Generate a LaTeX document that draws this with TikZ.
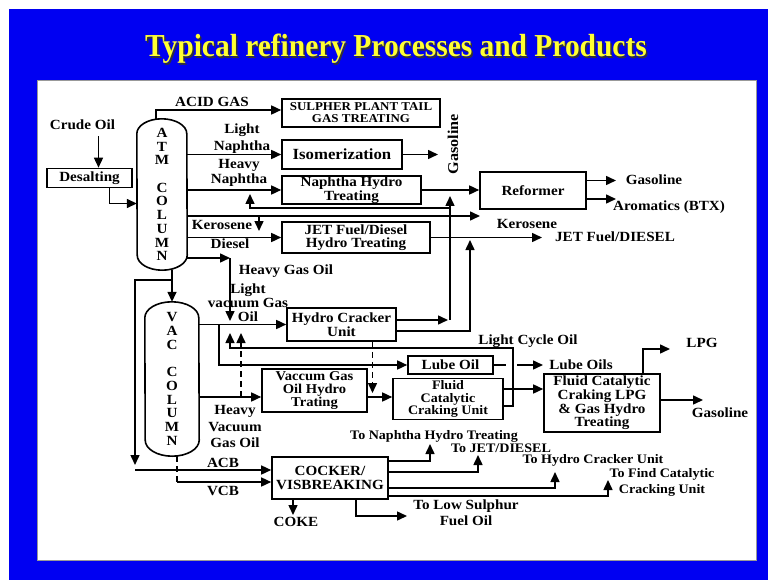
\documentclass[tikz,border=0pt]{standalone}
\usepackage{fontspec}
\setmainfont{Liberation Serif}[FakeStretch=1.08]
\newfontfamily\titlefont{Liberation Serif}[FakeStretch=0.92]
\usepackage{tikz}
\usetikzlibrary{calc,arrows.meta}
\definecolor{slide}{HTML}{0000F2}
\definecolor{headline}{HTML}{FFFF33}
\tikzset{
  unit/.style={draw, line width=1.6pt, inner sep=0pt, align=center, font=\fontsize{14}{13.6}\selectfont\bfseries},
  vessel/.style={draw, line width=1.6pt},
  flow/.style={draw, line width=1.5pt, -{Triangle[length=10pt,width=9pt]}},
  pipe/.style={draw, line width=1.5pt},
  broken/.style={dash pattern=on 6pt off 4pt},
  lab/.style={font=\fontsize{14}{16}\selectfont\bfseries, align=center, inner sep=0pt},
  smalllab/.style={lab, font=\fontsize{13}{16}\selectfont\bfseries},
  letters/.style={font=\fontsize{14}{13.7}\selectfont\bfseries, align=center, inner sep=0pt},
}

\begin{document}
\begin{tikzpicture}[x=1pt,y=-1pt]
\useasboundingbox (0,0) rectangle (768,580);
\fill[slide] (9,9) rectangle (768,580);
\draw[fill=white, draw=black!40] (37,80) rectangle (756,560);

\node[font=\titlefont\fontsize{32}{34}\selectfont\bfseries, text=black!80, anchor=base] (titleshade) at (397.5,58.5) {Typical refinery Processes and Products};
\node[font=\titlefont\fontsize{32}{34}\selectfont\bfseries, text=headline, anchor=base] (title) at (396,57) {Typical refinery Processes and Products};

% columns
\node[letters, minimum width=50pt, minimum height=151pt] (atm) at (162,194.5) {A\\T\\M\\[13.7pt]C\\O\\L\\U\\M\\N};
\draw[vessel] ([yshift=-15pt]atm.north west) arc[start angle=180, end angle=0, x radius=25pt, y radius=15pt]
  -- ([yshift=15pt]atm.south east) arc[start angle=0, end angle=-180, x radius=25pt, y radius=15pt] -- cycle;
\node[letters, minimum width=54pt, minimum height=154pt] (vac) at (172,379) {V\\A\\C\\[14pt]C\\O\\L\\U\\M\\N};
\draw[vessel] ([yshift=-16pt]vac.north west) arc[start angle=180, end angle=0, x radius=27pt, y radius=16pt]
  -- ([yshift=16pt]vac.south east) arc[start angle=0, end angle=-180, x radius=27pt, y radius=16pt] -- cycle;

% units
\node[unit, minimum width=158pt, minimum height=28pt, font=\fontsize{12}{12}\selectfont\bfseries] (sulph) at (361,113) {SULPHER PLANT TAIL\\GAS TREATING};
\node[unit, minimum width=85pt, minimum height=19pt] (desalt) at (89.5,178) {Desalting};
\node[unit, minimum width=120pt, minimum height=29pt, font=\fontsize{15.5}{16}\selectfont\bfseries] (iso) at (342,154.5) {Isomerization};
\node[unit, minimum width=139pt, minimum height=28pt] (nht) at (351.5,190) {Naphtha Hydro\\Treating};
\node[unit, minimum width=106pt, minimum height=37pt] (ref) at (533,190.5) {Reformer};
\node[unit, minimum width=148pt, minimum height=31pt] (jet) at (356,237.5) {JET Fuel/Diesel\\Hydro Treating};
\node[unit, minimum width=109pt, minimum height=33pt] (hc) at (341.5,324.5) {Hydro Cracker\\Unit};
\node[unit, minimum width=85pt, minimum height=18pt] (lube) at (450.5,365) {Lube Oil};
\node[unit, minimum width=105pt, minimum height=43pt, font=\fontsize{13.5}{12.8}\selectfont\bfseries] (vgo) at (314.5,390.5) {Vaccum Gas\\Oil Hydro\\Trating};
\node[unit, minimum width=110pt, minimum height=41pt, font=\fontsize{13}{12.4}\selectfont\bfseries] (fcc) at (448,399) {Fluid\\Catalytic\\Craking Unit};
\node[unit, minimum width=116pt, minimum height=58pt] (fccl) at (602,403) {Fluid Catalytic\\Craking LPG\\\& Gas Hydro\\Treating};
\node[unit, minimum width=116pt, minimum height=42pt] (cok) at (330,478) {COCKER/\\VISBREAKING};

% labels
\node[lab] (crude) at (82.5,125) {Crude Oil};
\node[lab] (acid) at (212,102) {ACID GAS};
\node[lab, font=\fontsize{14}{17}\selectfont\bfseries] (lnaph) at (242,138.5) {Light\\Naphtha};
\node[lab, font=\fontsize{14}{15}\selectfont\bfseries] (hnaph) at (239,172.5) {Heavy\\Naphtha};
\node[lab, rotate=90, font=\fontsize{15}{16}\selectfont\bfseries] (gasvert) at (453,144) {Gasoline};
\node[lab] (gasref) at (654,180) {Gasoline};
\node[lab] (btx) at (669,207) {Aromatics (BTX)};
\node[lab] (kerol) at (222,225) {Kerosene};
\node[lab] (kero) at (527,224) {Kerosene};
\node[lab] (dies) at (230,244) {Diesel};
\node[lab] (jetl) at (615,237) {JET Fuel/DIESEL};
\node[lab] (hgol) at (286,271) {Heavy Gas Oil};
\node[lab, font=\fontsize{14}{14}\selectfont\bfseries] (lvgo) at (248,303) {Light\\vacuum Gas\\Oil};
\node[lab, font=\fontsize{14}{16.5}\selectfont\bfseries] (hvgo) at (235,426.5) {Heavy\\Vacuum\\Gas Oil};
\node[lab] (acb) at (223,463) {ACB};
\node[lab] (vcb) at (223,491) {VCB};
\node[lab] (coke) at (296,522) {COKE};
\node[lab] (lsfo) at (466,513) {To Low Sulphur\\Fuel Oil};
\node[lab] (lco) at (528,341) {Light Cycle Oil};
\node[lab] (lubel) at (581,365) {Lube Oils};
\node[lab] (lpg) at (702,343) {LPG};
\node[lab] (gasfcc) at (720,413) {Gasoline};
\node[smalllab] (tonht) at (434,436) {To Naphtha Hydro Treating};
\node[smalllab] (tojet) at (501,448) {To JET/DIESEL};
\node[smalllab] (tohc) at (593,460) {To Hydro Cracker Unit};
\node[smalllab] (tofcc) at (662,482) {To Find Catalytic\\Cracking Unit};

% free ends
\coordinate (isoout) at (438,156);
\coordinate (refgas) at (616,180.5);
\coordinate (refbtx) at (616,199);
\coordinate (keroend) at (480,216);
\coordinate (kerodrop) at (259,231);
\coordinate (jetend) at (542,237.5);
\coordinate (hgo) at (230,258);
\coordinate (hgoend) at (230,321);
\coordinate (split) at (172,280);
\coordinate (acb0) at (135,470);
\coordinate (vcb0) at (177,482);
\coordinate (lubeb) at (219,324.5);
\coordinate (lubegap) at (517,365);
\coordinate (lubeend) at (543,365);
\coordinate (lcotop) at (513,348);
\coordinate (lcoend) at (230,333);
\coordinate (vgoin) at ([yshift=-6.5pt]vgo.west);
\coordinate (hvgoup) at (241,333);
\coordinate (hcdrop) at ([xshift=31pt]hc.south);
\coordinate (hcdropend) at (372.5,393);
\coordinate (hcjoin) at (450,320);
\coordinate (hcup) at (450,196);
\coordinate (recyc0) at (450,208);
\coordinate (recyc) at (250,194);
\coordinate (hcjet) at (470,240);
\coordinate (fccout) at ([yshift=10pt]fcc.east);
\coordinate (lpgend) at (670,349);
\coordinate (gasend) at (703,400);
\coordinate (cokeend) at (293,515);
\coordinate (lsfoend) at (407,516);
\coordinate (c1) at (430,444);
\coordinate (c2) at (478,455);
\coordinate (c3) at (555,472);
\coordinate (c4) at (608,480);

% atmospheric side
\draw[flow] ([xshift=16pt,yshift=-6pt]crude.south) -- ([xshift=16pt]crude.south |- desalt.north);
\draw[flow] ([xshift=20pt]desalt.south) |- ([yshift=-9pt]atm.west);
\draw[flow] ([xshift=-6pt]atm.north) |- ([yshift=3pt]sulph.west);
\draw[flow] (atm.east |- iso.west) -- (iso.west);
\draw[flow] (iso.east) -- (iso.east -| isoout);
\draw[flow] (atm.east |- nht.west) -- (nht.west);
\draw[flow] (nht.east) -- (nht.east -| ref.west);
\draw[flow] (ref.east |- refgas) -- (refgas);
\draw[flow] (ref.east |- refbtx) -- (refbtx);
\draw[flow] (atm.east |- keroend) -- (keroend);
\draw[flow] (kerodrop |- keroend) -- (kerodrop);
\draw[flow] (atm.east |- jet.west) -- (jet.west);
\draw[flow] (jet.east) -- (jetend);
\draw[flow] (atm.east |- hgo) -- (hgo);
\draw[flow] (hgo) -- (hgoend);
\draw[flow] (vac.north |- atm.south) -- (vac.north);
\draw[flow] (split) -| ($(acb0)+(0,-5)$);

% vacuum side
\draw[flow] (vac.east |- hc.west) -- (hc.west);
\draw[flow] (lubeb) |- (lube.west);
\draw[pipe] (lube.east) -- (lube.east -| 506,0);
\draw[flow] (lubegap) -- (lubeend);
\draw[flow] ([yshift=-7pt]fcc.east) -| (lcotop) -| (lcoend);
\draw[flow] (vac.east |- vgoin) -- (vgoin);
\draw[flow] (vgoin -| vgo.east) -- (vgoin -| fcc.west);
\draw[flow, broken] (hvgoup |- vgoin) -- (hvgoup);
\draw[flow, broken] (hcdrop) -- (hcdropend);
\draw[flow] ([yshift=4.5pt]hc.east) -- ([xshift=-2pt]hcjoin);
\draw[flow] (hcjoin) -- (hcup);
\draw[flow] (recyc0) -| (recyc);
\draw[flow] ([yshift=-6.5pt]hc.east) -| (hcjet);
\draw[flow] (fccout) -- (fccout -| fccl.west);
\draw[flow] ([xshift=41pt]fccl.north) |- (lpgend);
\draw[flow] (fccl.east |- gasend) -- (gasend);

% bottoms
\draw[flow] (acb0) -- (acb0 -| cok.west);
\draw[pipe, broken] (vcb0 |- vac.south) -- (vcb0);
\draw[flow] (vcb0) -- (vcb0 -| cok.west);
\draw[flow] (cok.south -| cokeend) -- (cokeend);
\draw[flow] ([xshift=26pt]cok.south) |- (lsfoend);
\draw[flow] ([yshift=17pt]cok.east) -| (c1);
\draw[flow] ([yshift=6pt]cok.east) -| (c2);
\draw[flow] ([yshift=-10pt]cok.east) -| (c3);
\draw[flow] ([yshift=-18pt]cok.east) -| (c4);
\end{tikzpicture}
\end{document}
